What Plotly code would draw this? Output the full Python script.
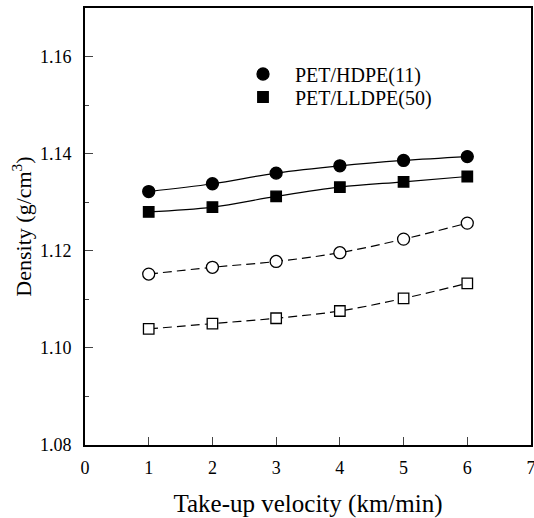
import plotly.graph_objects as go

velocity = [1, 2, 3, 4, 5, 6]
hdpe_filled = [1.1322, 1.1338, 1.1360, 1.1375, 1.1386, 1.1394]
lldpe_filled = [1.1280, 1.1290, 1.1312, 1.1331, 1.1342, 1.1353]
hdpe_open = [1.1152, 1.1166, 1.1178, 1.1196, 1.1224, 1.1257]
lldpe_open = [1.1039, 1.1050, 1.1061, 1.1076, 1.1102, 1.1133]

FONT = "Liberation Serif"
fig = go.Figure()

def add(y, symbol, fill, dash, name, legend):
    fig.add_trace(go.Scatter(x=velocity, y=y, mode="lines",
                             line=dict(color="black", width=1.2, shape="spline", dash=dash),
                             showlegend=False, hoverinfo="skip"))
    fig.add_trace(go.Scatter(x=velocity, y=y, mode="markers", name=name, showlegend=legend is not None,
                             legend=legend or "legend",
                             marker=dict(symbol=symbol, size=12 if symbol == "circle" else 10.5, color=fill,
                                         line=dict(color="black", width=1.3))))

add(hdpe_filled, "circle", "black", "solid", "PET/HDPE(11)", "legend")
add(lldpe_filled, "square", "black", "solid", "PET/LLDPE(50)", "legend2")
add(hdpe_open, "circle", "white", "9px,5px", "open circle", None)
add(lldpe_open, "square", "white", "9px,5px", "open square", None)

leg = dict(xanchor="left", yanchor="middle", bgcolor="rgba(0,0,0,0)", font=dict(size=20),
           itemwidth=54, borderwidth=0)
lx = (231 - 85) / 446
fig.update_layout(
    width=534, height=518,
    margin=dict(l=85, r=3, t=8, b=73),
    paper_bgcolor="white", plot_bgcolor="white",
    font=dict(family=FONT, size=18, color="black"),
    legend=dict(x=lx, y=(445 - 74) / 437, **leg),
    legend2=dict(x=lx, y=(445 - 97) / 437, **leg),
    xaxis=dict(range=[0, 7], tickvals=[0, 1, 2, 3, 4, 5, 6, 7], ticks="inside", ticklen=8, tickwidth=1.2,
               showline=True, linewidth=2, linecolor="black", mirror=True, showgrid=False, zeroline=False,
               automargin=False, ticklabeloverflow="allow", ticklabelstandoff=5,
               title=dict(text="Take-up velocity (km/min)", font=dict(size=25), standoff=24)),
    yaxis=dict(range=[1.08, 1.17], tickvals=[1.08, 1.10, 1.12, 1.14, 1.16], tickformat=".2f", ticks="inside",
               ticklen=8, tickwidth=1.2, automargin=False, ticklabelstandoff=8,
               minor=dict(tickvals=[1.09, 1.11, 1.13, 1.15], ticks="inside", ticklen=4, tickwidth=1),
               showline=True, linewidth=2, linecolor="black", mirror=True, showgrid=False, zeroline=False,
               title=dict(text="Density (g/cm<sup>3</sup>)", font=dict(size=22), standoff=2)),
)
fig.write_html("out.html")
